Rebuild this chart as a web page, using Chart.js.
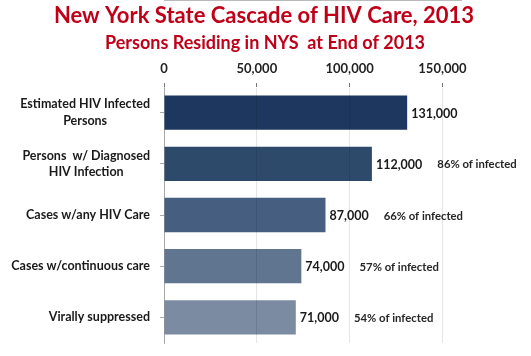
<!DOCTYPE html>
<html>
<head>
<meta charset="utf-8">
<script src="https://cdn.jsdelivr.net/npm/chart.js@4/dist/chart.umd.min.js"></script>
<style>
  html, body { margin: 0; padding: 0; background: #fff; }
  #wrap { width: 531px; height: 356px; }
</style>
</head>
<body>
<div id="wrap"><canvas id="c" width="531" height="356"></canvas></div>
<script>
const titleText = 'New York State Cascade of HIV Care, 2013';
const subtitleText = 'Persons Residing in NYS  at End of 2013';
const categories = [
  ['Estimated HIV Infected', 'Persons'],
  ['Persons  w/ Diagnosed', 'HIV Infection'],
  'Cases w/any HIV Care',
  'Cases w/continuous care',
  'Virally suppressed'
];
const personCounts = [131000, 112000, 87000, 74000, 71000];
const percentOfInfected = [null, 86, 66, 57, 54];
const barColors = ['#1d375e', '#2e4a6b', '#465f80', '#5f7590', '#7b8ba1'];
const xTicks = [0, 50000, 100000, 150000];

const FONT = 'Lato, "Open Sans", "Liberation Sans", sans-serif';
const Y_FONT = 'bold 12.5px ' + FONT;

const headings = {
  id: 'headings',
  afterDraw(chart) {
    const ctx = chart.ctx;
    ctx.save();
    ctx.textAlign = 'center';
    ctx.textBaseline = 'alphabetic';
    ctx.fillStyle = '#c00018';
    ctx.font = 'bold 22px ' + FONT;
    ctx.fillText(titleText, 264, 22.5);
    ctx.font = 'bold 18px ' + FONT;
    ctx.fillText(subtitleText, 265, 48.5);
    ctx.restore();
  }
};

// Category labels: single lines right-aligned near the axis; wrapped labels
// have their second line centred under the first (as in the original slide).
const categoryLabels = {
  id: 'categoryLabels',
  afterDraw(chart) {
    const ctx = chart.ctx;
    const y = chart.scales.y;
    const right = y.right - 14;
    ctx.save();
    ctx.font = Y_FONT;
    ctx.fillStyle = '#1a1a1a';
    ctx.textBaseline = 'middle';
    categories.forEach((lab, i) => {
      const cy = y.getPixelForValue(i);
      if (Array.isArray(lab)) {
        const w0 = ctx.measureText(lab[0]).width;
        const cx = right - w0 / 2;
        const lh = 16.5;
        ctx.textAlign = 'center';
        lab.forEach((line, k) => {
          ctx.fillText(line, cx, cy + (k - (lab.length - 1) / 2) * lh);
        });
      } else {
        ctx.textAlign = 'right';
        ctx.fillText(lab, right, cy);
      }
    });
    ctx.restore();
  }
};

const valueLabels = {
  id: 'valueLabels',
  afterDatasetsDraw(chart) {
    const ctx = chart.ctx;
    const meta = chart.getDatasetMeta(0);
    ctx.save();
    ctx.textBaseline = 'middle';
    ctx.textAlign = 'left';
    meta.data.forEach((bar, i) => {
      const txt = personCounts[i].toLocaleString('en-US');
      ctx.font = 'bold 12.5px ' + FONT;
      ctx.fillStyle = '#1a1a1a';
      const x = bar.x + 4;
      ctx.fillText(txt, x, bar.y + 1);
      const w = ctx.measureText(txt).width;
      if (percentOfInfected[i] !== null) {
        ctx.font = 'bold 11.3px ' + FONT;
        ctx.fillStyle = '#262626';
        ctx.fillText(percentOfInfected[i] + '% of infected', x + w + 15, bar.y + 1);
      }
    });
    ctx.restore();
  }
};

new Chart(document.getElementById('c'), {
  type: 'bar',
  data: {
    labels: categories,
    datasets: [{
      data: personCounts,
      backgroundColor: barColors,
      borderWidth: 0,
      categoryPercentage: 1,
      barPercentage: 0.67
    }]
  },
  options: {
    indexAxis: 'y',
    responsive: false,
    animation: false,
    events: [],
    layout: { padding: { left: 0, right: 70, top: 57, bottom: 13 } },
    plugins: {
      legend: { display: false },
      tooltip: { enabled: false },
      title: { display: false }
    },
    scales: {
      x: {
        position: 'top',
        min: 0,
        max: 160000,
        afterBuildTicks(scale) {
          scale.ticks = xTicks.map(v => ({ value: v }));
        },
        afterFit(scale) {
          scale.height = 30;
          scale.paddingLeft = 0;
          scale.paddingRight = 0;
        },
        ticks: {
          color: '#222',
          font: { family: FONT, size: 13, weight: 'bold' },
          padding: 6,
          callback: v => Number(v).toLocaleString('en-US')
        },
        grid: {
          color: 'rgba(0,0,0,0.10)',
          tickColor: '#777',
          tickLength: 4,
          z: 1
        },
        border: { display: true, color: '#777', width: 1 }
      },
      y: {
        afterFit(scale) {
          scale.width = 164;
          scale.paddingTop = 0;
          scale.paddingBottom = 0;
        },
        ticks: {
          display: false
        },
        grid: {
          offset: false,
          drawOnChartArea: false,
          tickColor: '#aaa',
          tickLength: 4
        },
        border: { display: true, color: '#bbb', width: 1 }
      }
    }
  },
  plugins: [valueLabels, headings, categoryLabels]
});
</script>
</body>
</html>
